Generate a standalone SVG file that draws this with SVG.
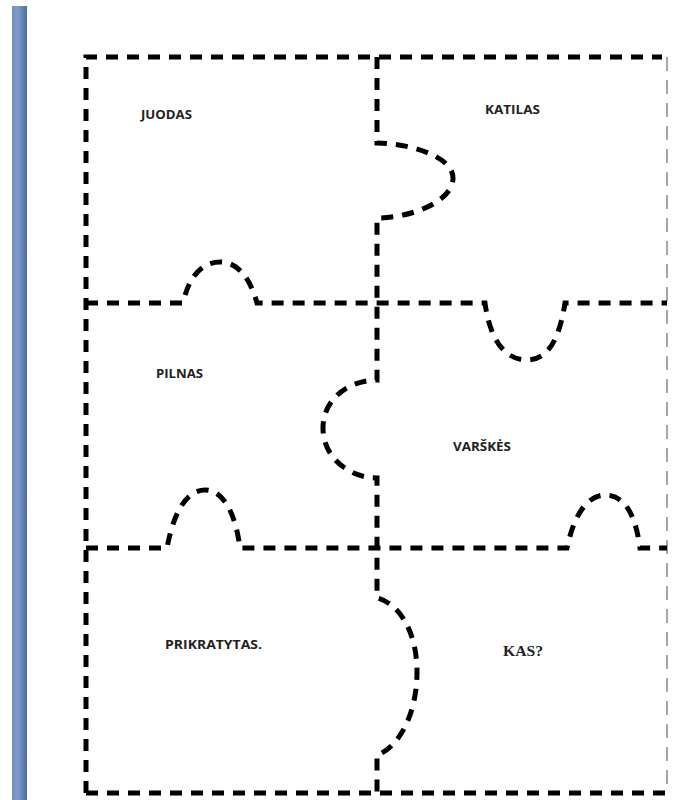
<svg xmlns="http://www.w3.org/2000/svg" width="677" height="800" viewBox="0 0 677 800">
<defs>
<linearGradient id="bar" x1="0" y1="0" x2="1" y2="0">
<stop offset="0" stop-color="#6f8fbf"/>
<stop offset="0.4" stop-color="#7f9ccb"/>
<stop offset="1" stop-color="#4d6b9c"/>
</linearGradient>
<style>
.cut{fill:none;stroke:#000;stroke-width:5;stroke-dasharray:12 9;stroke-linejoin:miter}
.thin{fill:none;stroke:#777;stroke-width:1.3;stroke-dasharray:14 9}
.lbl{font-family:"Open Sans","Liberation Sans",sans-serif;font-weight:bold;font-size:12px;fill:#222}
.ser{font-family:"Liberation Serif",serif;font-weight:bold;font-size:15px;fill:#222}
</style>
</defs>
<rect width="677" height="800" fill="#fff"/>
<rect x="12" y="6" width="15" height="794" fill="url(#bar)"/>
<g id="connectors">
<path class="cut" d="M86,793 V57 H662"/>
<path class="cut" d="M86,793 H667"/>
<path class="thin" d="M667,57 V793"/>
<path class="cut" d="M377,57 V143 C405,143 453,155 453,178 C453,202 410,218 377,218 V380 C350,380 323,398 323,428 C323,458 350,478 377,478 V598 C398,603 417,630 417,672 C417,715 398,748 377,755 V793"/>
<path class="cut" d="M86,303 H183 C190,272 205,262 220,262 C238,262 250,278 257,303 H485 C490,340 505,360 527,360 C550,360 560,335 565,303 H667"/>
<path class="cut" d="M86,548 H167 C175,505 190,490 205,490 C222,490 235,510 240,548 H567 C575,510 590,495 605,495 C622,495 635,510 640,548 H667"/>
</g>
<g id="piece-juodas"><text class="lbl" x="141" y="119" textLength="51" lengthAdjust="spacingAndGlyphs">JUODAS</text></g>
<g id="piece-katilas"><text class="lbl" x="485" y="114" textLength="55" lengthAdjust="spacingAndGlyphs">KATILAS</text></g>
<g id="piece-pilnas"><text class="lbl" x="156" y="378" textLength="47" lengthAdjust="spacingAndGlyphs">PILNAS</text></g>
<g id="piece-varskes"><text class="lbl" x="453" y="451" textLength="58" lengthAdjust="spacingAndGlyphs">VARŠKĖS</text></g>
<g id="piece-prikratytas"><text class="lbl" x="165" y="649" textLength="97" lengthAdjust="spacingAndGlyphs">PRIKRATYTAS.</text></g>
<g id="piece-kas"><text class="ser" x="503" y="656" textLength="40" lengthAdjust="spacingAndGlyphs">KAS?</text></g>
</svg>
